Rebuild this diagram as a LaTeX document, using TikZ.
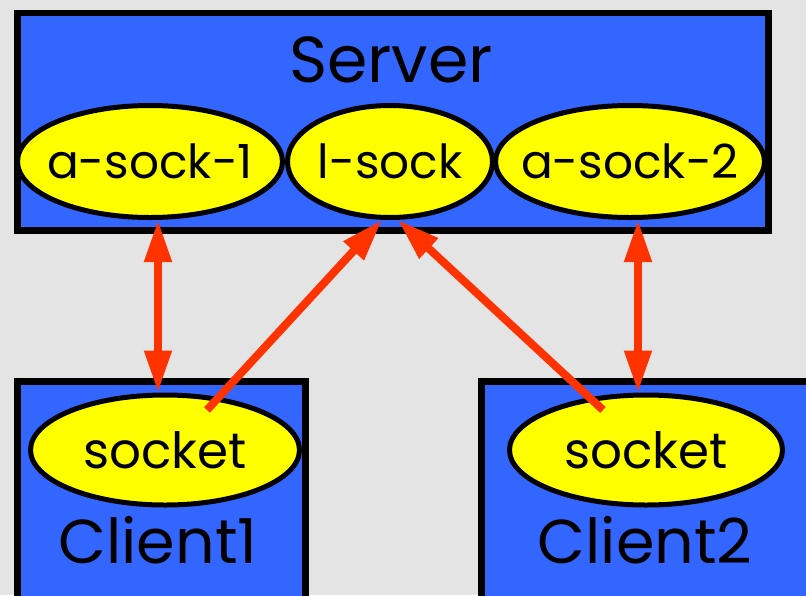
\documentclass[tikz,border=0pt]{standalone}
\usepackage{fontspec}
\setmainfont{Poppins}
\usetikzlibrary{arrows.meta,shapes.geometric}
\definecolor{bg}{HTML}{E4E4E4}
\definecolor{boxblue}{HTML}{3366FF}
\definecolor{sockyellow}{HTML}{FFFF00}
\definecolor{arrred}{HTML}{FF3300}
\begin{document}
\begin{tikzpicture}[x=1pt,y=-1pt,
  box/.style={draw=black,line width=6.5pt,fill=boxblue,rectangle,inner sep=0pt,anchor=north west},
  sock/.style={ellipse,draw=black,line width=5pt,fill=sockyellow,inner sep=0pt,minimum height=112pt},
  lbl/.style={inner sep=0pt,font=\fontsize{47}{52}\selectfont},
  slbl/.style={inner sep=0pt,font=\fontsize{50}{55}\selectfont},
  title/.style={inner sep=0pt,anchor=base,font=\fontsize{62}{68}\selectfont},
  link/.style={draw=arrred,line width=8pt},
  bigtip/.tip={Triangle[length=42pt,width=26pt]}
]
\fill[bg] (0,0) rectangle (806,595);
\useasboundingbox (0,0) rectangle (806,595);
\begin{scope}
\clip (0,0) rectangle (806,595);
% boxes
\node[box,minimum width=751pt,minimum height=217.5pt] (server) at (14,9.5) {};
\node[box,minimum width=288pt,minimum height=242pt] (client1) at (14,378) {};
\node[box,minimum width=352pt,minimum height=242pt] (client2) at (478,378) {};
% titles
\node[title,font=\fontsize{65}{70}\selectfont] (servert) at (391,82) {Server};
\node[title] (client1t) at (158,563) {Client1};
\node[title] (client2t) at (645,563) {Client2};
% sockets
\node[sock,minimum width=265pt] (asock1) at (150,161.5) {};
\node[sock,minimum width=205pt] (lsock) at (390,161.5) {};
\node[sock,minimum width=269pt] (asock2) at (630,161.5) {};
\node[sock,minimum width=269pt,minimum height=110pt] (sock1) at (165,450) {};
\node[sock,minimum width=273pt,minimum height=110pt] (sock2) at (646,450) {};
\node[lbl] (asock1t) at (asock1) {a-sock-1};
\node[lbl] (lsockt) at (lsock) {l-sock};
\node[lbl] (asock2t) at (asock2) {a-sock-2};
\node[slbl] (sock1t) at (sock1) {socket};
\node[slbl] (sock2t) at (sock2) {socket};
% connectors
\draw[link,bigtip-bigtip] ([xshift=8pt]asock1.south) -- ([xshift=-7pt]sock1.north);
\draw[link,bigtip-bigtip] ([xshift=8pt]asock2.south) -- ([xshift=-8pt]sock2.north);
\draw[link,-bigtip] ([shift={(42,-40)}]sock1.center) -- ([xshift=-8pt]lsock.south);
\draw[link,-bigtip] ([shift={(-43,-40)}]sock2.center) -- ([xshift=8pt]lsock.south);
\end{scope}
\end{tikzpicture}
\end{document}
